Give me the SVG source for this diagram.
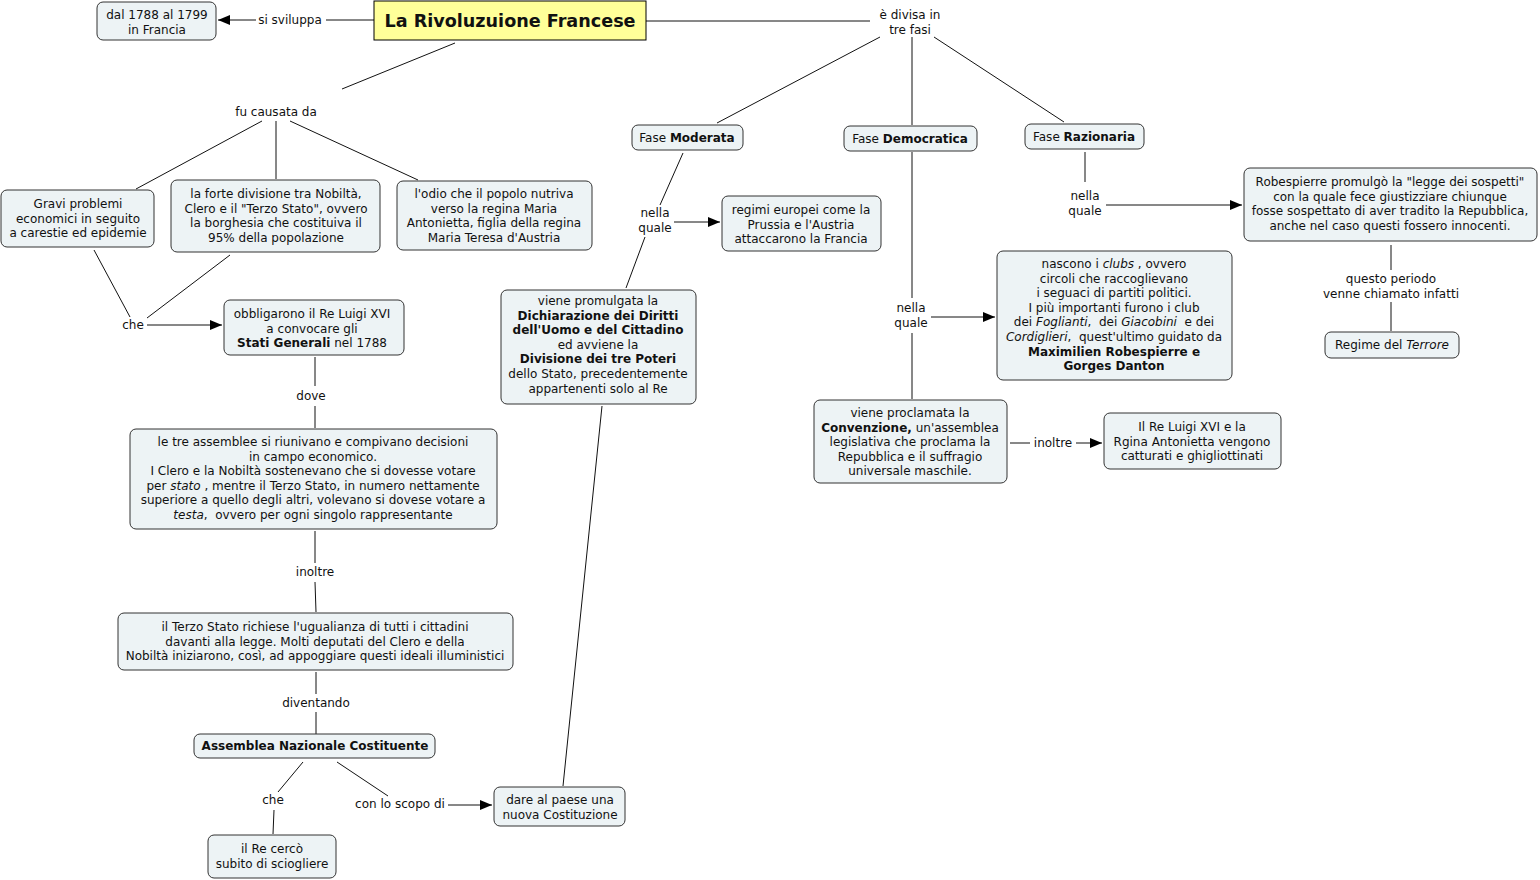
<svg xmlns="http://www.w3.org/2000/svg" width="1540" height="880" viewBox="0 0 1540 880">
<style>
.n{fill:#edf3f5;stroke:#333;stroke-width:1}
.t{font-family:"DejaVu Sans",Verdana,sans-serif;font-size:12px;fill:#111;text-anchor:middle}
.b{font-weight:bold}
.i{font-style:italic}
.p{white-space:pre}
.c line,.c path{stroke:#111;stroke-width:1;fill:none}
</style>
<defs>
<marker id="ar" viewBox="0 0 12 10" refX="12" refY="5" markerWidth="12" markerHeight="10" markerUnits="userSpaceOnUse" orient="auto">
<path d="M0,0 L12,5 L0,10 z" fill="#000"/>
</marker>
</defs>
<rect width="1540" height="880" fill="#fff"/>

<g class="c" id="connectors">
<line x1="374" y1="20" x2="326" y2="20"/>
<line x1="256" y1="20" x2="218" y2="20" marker-end="url(#ar)"/>
<line x1="646" y1="21" x2="870" y2="21"/>
<line x1="880" y1="37" x2="717" y2="123"/>
<line x1="912" y1="37" x2="912" y2="125"/>
<line x1="934" y1="37" x2="1064" y2="122"/>
<line x1="455" y1="43" x2="342" y2="89"/>
<line x1="262" y1="121" x2="136" y2="189"/>
<line x1="276" y1="121" x2="276" y2="179"/>
<line x1="290" y1="121" x2="418" y2="180"/>
<line x1="94" y1="250" x2="130" y2="317"/>
<line x1="230" y1="255" x2="147" y2="318"/>
<line x1="147" y1="325" x2="222" y2="325" marker-end="url(#ar)"/>
<line x1="315" y1="357" x2="315" y2="386"/>
<line x1="315" y1="406" x2="315" y2="428"/>
<line x1="315" y1="531" x2="315" y2="563"/>
<line x1="315" y1="582" x2="316" y2="612"/>
<line x1="316" y1="672" x2="316" y2="694"/>
<line x1="316" y1="712" x2="316" y2="734"/>
<line x1="303" y1="762" x2="278" y2="792"/>
<line x1="274" y1="810" x2="273" y2="834"/>
<line x1="337" y1="762" x2="388" y2="796"/>
<line x1="448" y1="805" x2="492" y2="805" marker-end="url(#ar)"/>
<line x1="602" y1="406" x2="563" y2="786"/>
<line x1="683" y1="153" x2="660" y2="205"/>
<line x1="645" y1="237" x2="626" y2="288"/>
<line x1="674" y1="222" x2="720" y2="222" marker-end="url(#ar)"/>
<line x1="912" y1="152" x2="912" y2="298"/>
<line x1="912" y1="333" x2="912" y2="399"/>
<line x1="931" y1="317" x2="995" y2="317" marker-end="url(#ar)"/>
<line x1="1010" y1="443" x2="1030" y2="443"/>
<line x1="1076" y1="443" x2="1102" y2="443" marker-end="url(#ar)"/>
<line x1="1085" y1="152" x2="1085" y2="182"/>
<line x1="1106" y1="205" x2="1242" y2="205" marker-end="url(#ar)"/>
<line x1="1391" y1="245" x2="1391" y2="270"/>
<line x1="1391" y1="302" x2="1391" y2="331"/>
</g>

<g id="labels" class="t">
<text x="290" y="24">si sviluppa</text>
<text x="910" y="19">è divisa in<tspan x="910" dy="14.6">tre fasi</tspan></text>
<text x="276" y="116">fu causata da</text>
<text x="133" y="329">che</text>
<text x="311" y="400">dove</text>
<text x="315" y="576">inoltre</text>
<text x="316" y="707">diventando</text>
<text x="273" y="804">che</text>
<text x="400" y="808">con lo scopo di</text>
<text x="655" y="217">nella<tspan x="655" dy="14.6">quale</tspan></text>
<text x="911" y="312">nella<tspan x="911" dy="14.6">quale</tspan></text>
<text x="1053" y="447">inoltre</text>
<text x="1085" y="200">nella<tspan x="1085" dy="14.6">quale</tspan></text>
<text x="1391" y="283">questo periodo<tspan x="1391" dy="14.6">venne chiamato infatti</tspan></text>
</g>

<g id="title">
<rect x="374" y="1" width="272" height="39" fill="#ffff99" stroke="#000"/>
<text class="t b" x="510" y="27" style="font-size:17.6px">La Rivoluzuione Francese</text>
</g>

<g id="n-dal">
<rect class="n" x="97" y="2" width="119" height="38" rx="6"/>
<text class="t" x="157" y="19">dal 1788 al 1799<tspan x="157" dy="14.6">in Francia</tspan></text>
</g>

<g id="n-gravi">
<rect class="n" x="1" y="190" width="153" height="57" rx="6"/>
<text class="t" x="78" y="208">Gravi problemi<tspan x="78" dy="14.6">economici in seguito</tspan><tspan x="78" dy="14.6">a carestie ed epidemie</tspan></text>
</g>

<g id="n-forte">
<rect class="n" x="171" y="180" width="209" height="72" rx="6"/>
<text class="t" x="276" y="198">la forte divisione tra Nobiltà,<tspan x="276" dy="14.6">Clero e il "Terzo Stato", ovvero</tspan><tspan x="276" dy="14.6">la borghesia che costituiva il</tspan><tspan x="276" dy="14.6">95% della popolazione</tspan></text>
</g>

<g id="n-odio">
<rect class="n" x="397" y="181" width="195" height="69" rx="6"/>
<text class="t" x="494" y="198">l'odio che il popolo nutriva<tspan x="494" dy="14.6">verso la regina Maria</tspan><tspan x="494" dy="14.6">Antonietta, figlia della regina</tspan><tspan x="494" dy="14.6">Maria Teresa d'Austria</tspan></text>
</g>

<g id="n-obbligarono">
<rect class="n" x="224" y="300" width="180" height="55" rx="6"/>
<text class="t" x="312" y="318">obbligarono il Re Luigi XVI<tspan x="312" dy="14.6">a convocare gli</tspan><tspan x="312" dy="14.6"><tspan class="b">Stati Generali</tspan> nel 1788</tspan></text>
</g>

<g id="n-assemblee">
<rect class="n" x="130" y="429" width="367" height="100" rx="6"/>
<text class="t p" x="313" y="446">le tre assemblee si riunivano e compivano decisioni<tspan x="313" dy="14.6">in campo economico.</tspan><tspan x="313" dy="14.6">I Clero e la Nobiltà sostenevano che si dovesse votare</tspan><tspan x="313" dy="14.6">per <tspan class="i">stato</tspan> , mentre il Terzo Stato, in numero nettamente</tspan><tspan x="313" dy="14.6">superiore a quello degli altri, volevano si dovese votare a</tspan><tspan x="313" dy="14.6"><tspan class="i">testa</tspan>,  ovvero per ogni singolo rappresentante</tspan></text>
</g>

<g id="n-terzo">
<rect class="n" x="118" y="613" width="395" height="57" rx="6"/>
<text class="t" x="315" y="631">il Terzo Stato richiese l'ugualianza di tutti i cittadini<tspan x="315" dy="14.6">davanti alla legge. Molti deputati del Clero e della</tspan><tspan x="315" dy="14.6">Nobiltà iniziarono, così, ad appoggiare questi ideali illuministici</tspan></text>
</g>

<g id="n-assemblea">
<rect class="n" x="194" y="734" width="241" height="24" rx="6"/>
<text class="t b" x="315" y="750">Assemblea Nazionale Costituente</text>
</g>

<g id="n-re">
<rect class="n" x="208" y="835" width="128" height="43" rx="6"/>
<text class="t" x="272" y="853">il Re cercò<tspan x="272" dy="14.6">subito di sciogliere</tspan></text>
</g>

<g id="n-dare">
<rect class="n" x="494" y="787" width="131" height="39" rx="6"/>
<text class="t" x="560" y="804">dare al paese una<tspan x="560" dy="14.6">nuova Costituzione</tspan></text>
</g>

<g id="n-dichiarazione">
<rect class="n" x="501" y="290" width="195" height="114" rx="6"/>
<text class="t" x="598" y="305">viene promulgata la<tspan x="598" dy="14.6" class="b">Dichiarazione dei Diritti</tspan><tspan x="598" dy="14.6" class="b">dell'Uomo e del Cittadino</tspan><tspan x="598" dy="14.6">ed avviene la</tspan><tspan x="598" dy="14.6" class="b">Divisione dei tre Poteri</tspan><tspan x="598" dy="14.6">dello Stato, precedentemente</tspan><tspan x="598" dy="14.6">appartenenti solo al Re</tspan></text>
</g>

<g id="n-moderata">
<rect class="n" x="632" y="125" width="111" height="25" rx="6"/>
<text class="t" x="687" y="142">Fase <tspan class="b">Moderata</tspan></text>
</g>

<g id="n-democratica">
<rect class="n" x="844" y="126" width="133" height="25" rx="6"/>
<text class="t" x="910" y="143">Fase <tspan class="b">Democratica</tspan></text>
</g>

<g id="n-razionaria">
<rect class="n" x="1025" y="124" width="119" height="25" rx="6"/>
<text class="t" x="1084" y="141">Fase <tspan class="b">Razionaria</tspan></text>
</g>

<g id="n-regimi">
<rect class="n" x="722" y="196" width="159" height="55" rx="6"/>
<text class="t" x="801" y="214">regimi europei come la<tspan x="801" dy="14.6">Prussia e l'Austria</tspan><tspan x="801" dy="14.6">attaccarono la Francia</tspan></text>
</g>

<g id="n-clubs">
<rect class="n" x="997" y="251" width="235" height="129" rx="6"/>
<text class="t p" x="1114" y="268">nascono i <tspan class="i">clubs</tspan> , ovvero<tspan x="1114" dy="14.6">circoli che raccoglievano</tspan><tspan x="1114" dy="14.6">i seguaci di partiti politici.</tspan><tspan x="1114" dy="14.6">I più importanti furono i club</tspan><tspan x="1114" dy="14.6">dei <tspan class="i">Foglianti</tspan>,  dei <tspan class="i">Giacobini</tspan>  e dei</tspan><tspan x="1114" dy="14.6"><tspan class="i">Cordiglieri</tspan>,  quest'ultimo guidato da</tspan><tspan x="1114" dy="14.6" class="b">Maximilien Robespierre e</tspan><tspan x="1114" dy="14.6" class="b">Gorges Danton</tspan></text>
</g>

<g id="n-convenzione">
<rect class="n" x="814" y="400" width="193" height="83" rx="6"/>
<text class="t" x="910" y="417">viene proclamata la<tspan x="910" dy="14.6"><tspan class="b">Convenzione,</tspan> un'assemblea</tspan><tspan x="910" dy="14.6">legislativa che proclama la</tspan><tspan x="910" dy="14.6">Repubblica e il suffragio</tspan><tspan x="910" dy="14.6">universale maschile.</tspan></text>
</g>

<g id="n-luigi">
<rect class="n" x="1104" y="413" width="177" height="56" rx="6"/>
<text class="t" x="1192" y="431">Il Re Luigi XVI e la<tspan x="1192" dy="14.6">Rgina Antonietta vengono</tspan><tspan x="1192" dy="14.6">catturati e ghigliottinati</tspan></text>
</g>

<g id="n-robespierre">
<rect class="n" x="1244" y="168" width="293" height="73" rx="6"/>
<text class="t" x="1390" y="186">Robespierre promulgò la "legge dei sospetti"<tspan x="1390" dy="14.6">con la quale fece giustizziare chiunque</tspan><tspan x="1390" dy="14.6">fosse sospettato di aver tradito la Repubblica,</tspan><tspan x="1390" dy="14.6">anche nel caso questi fossero innocenti.</tspan></text>
</g>

<g id="n-terrore">
<rect class="n" x="1325" y="332" width="134" height="26" rx="6"/>
<text class="t" x="1392" y="349">Regime del <tspan class="i">Terrore</tspan></text>
</g>
</svg>
